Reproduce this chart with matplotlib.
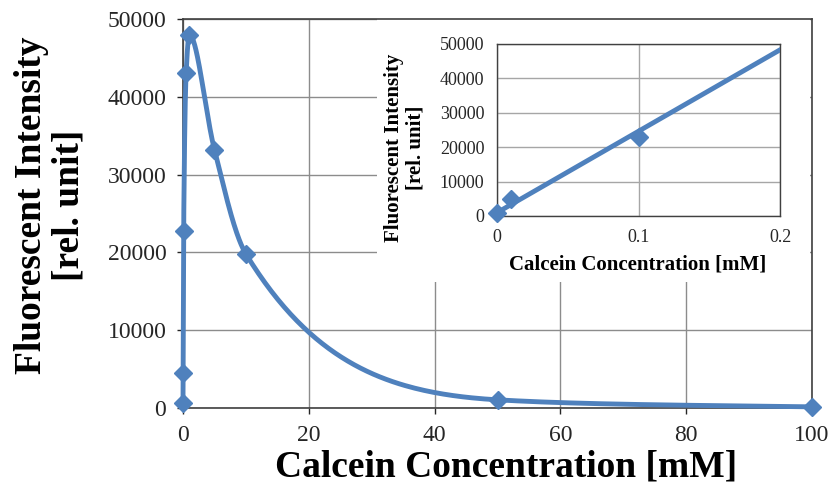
import numpy as np
import matplotlib
matplotlib.use("Agg")
import matplotlib.pyplot as plt
from matplotlib.patches import Rectangle

# ---------------- data ----------------
conc_mM = [0, 0.01, 0.1, 0.5, 1, 5, 10, 50, 100]
intensity = [700, 4500, 22800, 43000, 48000, 33200, 19800, 1050, 150]
main_xticks = [0, 20, 40, 60, 80, 100]
main_yticks = [0, 10000, 20000, 30000, 40000, 50000]

inset_conc = [0, 0.01, 0.1]
inset_intensity = [1000, 5000, 23000]
inset_trend_x = [0, 0.2]
inset_trend_y = [970, 48300]
inset_xticks = [0, 0.1, 0.2]
inset_xticklabels = ["0", "0.1", "0.2"]
inset_yticks = [0, 10000, 20000, 30000, 40000, 50000]

xlabel = "Calcein Concentration [mM]"
ylabel = "Fluorescent Intensity\n[rel. unit]"

# ---------------- style ----------------
plt.rcParams["font.family"] = ["Liberation Serif", "DejaVu Serif"]
BLUE = "#4f81bd"
W, H = 833, 492


def fr(l, t, r, b):
    return [l / W, 1 - b / H, (r - l) / W, (b - t) / H]


def smooth(x, y, n=80, p=0.5):
    """Shape-preserving smoothed line (monotone cubic on y**p)."""
    x = np.asarray(x, float)
    ly = np.asarray(y, float) ** p
    h = np.diff(x)
    d = np.diff(ly) / h
    m = np.zeros_like(ly)
    for k in range(1, len(x) - 1):
        if d[k - 1] * d[k] <= 0:
            m[k] = 0.0
        else:
            w1 = 2 * h[k] + h[k - 1]
            w2 = h[k] + 2 * h[k - 1]
            m[k] = (w1 + w2) / (w1 / d[k - 1] + w2 / d[k])
    m[0], m[-1] = d[0], d[-1]
    xs, ys = [], []
    for k in range(len(h)):
        s = np.linspace(0, 1, n)
        h00 = 2 * s**3 - 3 * s**2 + 1
        h10 = s**3 - 2 * s**2 + s
        h01 = -2 * s**3 + 3 * s**2
        h11 = s**3 - s**2
        seg = (h00 * ly[k] + h10 * h[k] * m[k] + h01 * ly[k + 1]
               + h11 * h[k] * m[k + 1])
        xs.append(x[k] + s * h[k])
        ys.append(np.clip(seg, 0, None) ** (1.0 / p))
    return np.concatenate(xs), np.concatenate(ys)


fig = plt.figure(figsize=(W / 100, H / 100), dpi=100)

# ---------------- main axes ----------------
ax = fig.add_axes(fr(183, 19, 812, 408))
ax.set_xlim(0, 100)
ax.set_ylim(0, 50000)
ax.set_xticks(main_xticks)
ax.set_yticks(main_yticks)
ax.set_axisbelow(True)
ax.grid(True, color="#8c8c8c", lw=1.0)
for s in ax.spines.values():
    s.set_color("#404040")
    s.set_linewidth(1.2)
ax.tick_params(axis="both", labelsize=17, colors="#262626", length=4,
               width=1, pad=8)

# white box behind the inset
x0 = (377 - 183) / 629
y0 = (408 - 282) / 389
ax.add_patch(Rectangle((x0, y0), (810 - 377) / 629, 1 - y0,
                       transform=ax.transAxes, facecolor="white",
                       edgecolor="none", zorder=1))

sx, sy = smooth(conc_mM, intensity)
ax.plot(sx, sy, color=BLUE, lw=3.5, zorder=3, clip_on=False,
        solid_capstyle="round", solid_joinstyle="round")
ax.plot(conc_mM, intensity, ls="none", marker="D", ms=9.5, color=BLUE,
        zorder=4, clip_on=False)

fig.text(50 / W, 1 - 205 / H, ylabel, rotation=90, ha="center",
         va="center", fontsize=27, fontweight="bold", linespacing=1.1)
fig.text(506 / W, 1 - 467 / H, xlabel, ha="center", va="center",
         fontsize=27, fontweight="bold")

# ---------------- inset ----------------
ins = fig.add_axes(fr(497, 44, 780, 216))
ins.set_xlim(0, 0.2)
ins.set_ylim(0, 50000)
ins.set_xticks(inset_xticks)
ins.set_xticklabels(inset_xticklabels)
ins.set_yticks(inset_yticks)
ins.set_axisbelow(True)
ins.grid(True, color="#a6a6a6", lw=1.0)
for s in ins.spines.values():
    s.set_color("#404040")
    s.set_linewidth(1.0)
ins.tick_params(axis="both", labelsize=13, colors="#262626", length=0,
                pad=9)
ins.plot(inset_trend_x, inset_trend_y, color=BLUE, lw=3.5, zorder=3)
ins.plot(inset_conc, inset_intensity, ls="none", marker="D", ms=9,
         color=BLUE, zorder=4, clip_on=False)

fig.text(405 / W, 1 - 148 / H, ylabel, rotation=90, ha="center",
         va="center", fontsize=15, fontweight="bold", linespacing=1.1)
fig.text(638 / W, 1 - 265 / H, xlabel, ha="center", va="center",
         fontsize=15, fontweight="bold")

fig.savefig("out.png", dpi=100)
